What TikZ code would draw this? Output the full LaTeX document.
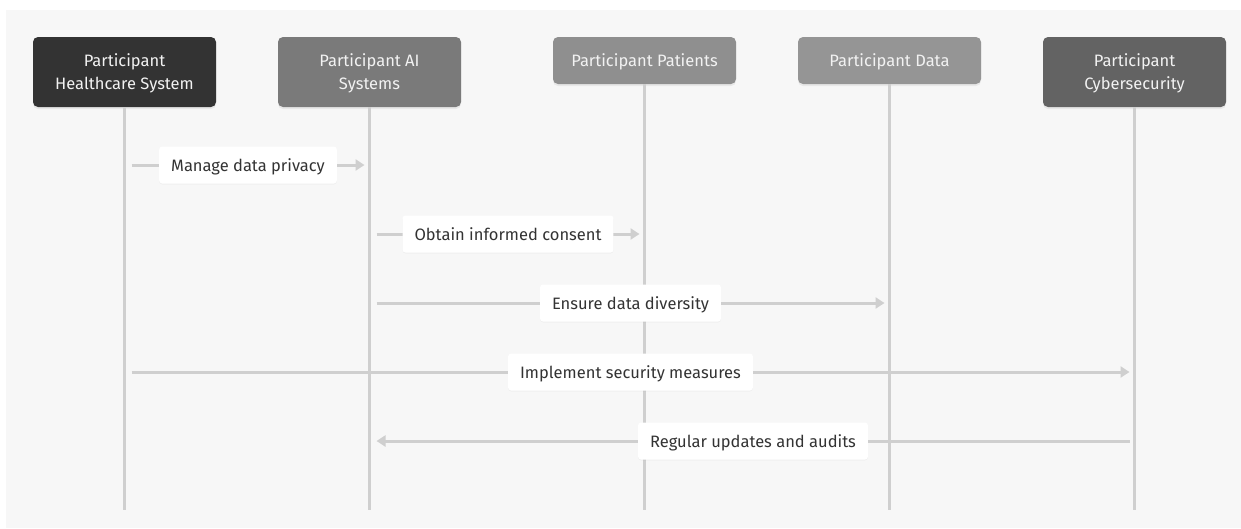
\documentclass[tikz,border=0pt]{standalone}
\usepackage{fontspec}
\setmainfont{Fira Sans}
\usetikzlibrary{shadows,arrows.meta,calc}
\definecolor{panel}{HTML}{F7F7F7}
\definecolor{rule}{HTML}{CFCFCF}
\definecolor{ink}{HTML}{333333}
\definecolor{headtext}{HTML}{F2F2F2}
\definecolor{hsfill}{HTML}{333333}
\definecolor{aifill}{HTML}{7A7A7A}
\definecolor{ptfill}{HTML}{8F8F8F}
\definecolor{dtfill}{HTML}{959595}
\definecolor{cyfill}{HTML}{636363}
\tikzset{
  actor/.style={rounded corners=5pt, minimum width=183pt, text=headtext,
    align=center, font=\fontsize{16.5}{23}\selectfont, inner sep=0pt,
    text depth=0pt,
    drop shadow={shadow xshift=0pt, shadow yshift=-2pt, opacity=0.12}},
  lifeline/.style={draw=rule, line width=3pt},
  msg/.style={draw=rule, line width=3pt, -{Triangle[length=9pt,width=11pt]}},
  msglabel/.style={fill=white, rounded corners=3pt, text=ink,
    font=\fontsize{16.5}{20}\selectfont, minimum height=37pt, inner xsep=12pt,
    text height=12pt, text depth=0pt,
    drop shadow={shadow xshift=0pt, shadow yshift=-1pt, opacity=0.06}}
}
\begin{document}
\begin{tikzpicture}[x=1pt,y=-1pt]
\useasboundingbox (0,0) rectangle (1241,528);
\fill[white] (0,0) rectangle (1241,528);
\fill[panel] (6,10) rectangle (1241,528);

% participants
\node[actor, fill=hsfill, minimum height=70pt] (hs) at (124.5,72) {Participant\\Healthcare System};
\node[actor, fill=aifill, minimum height=70pt] (ai) at (369.5,72) {Participant AI\\Systems};
\node[actor, fill=ptfill, minimum height=47pt] (pt) at (644.5,60.5) {Participant Patients};
\node[actor, fill=dtfill, minimum height=47pt] (dt) at (889.5,60.5) {Participant Data};
\node[actor, fill=cyfill, minimum height=70pt] (cy) at (1134.5,72) {Participant\\Cybersecurity};

% lifeline ends
\foreach \p in {hs,ai,pt,dt,cy}{
  \coordinate (\p-end) at (\p.south |- 0,510);
  \draw[lifeline] (\p.south) -- (\p-end);
}

% message end points
\coordinate (m1a) at ($(hs.south |- 0,165)+(7,0)$);
\coordinate (m1b) at ($(ai.south |- 0,165)+(-5,0)$);
\coordinate (m2a) at ($(ai.south |- 0,234)+(7,0)$);
\coordinate (m2b) at ($(pt.south |- 0,234)+(-5,0)$);
\coordinate (m3a) at ($(ai.south |- 0,303)+(7,0)$);
\coordinate (m3b) at ($(dt.south |- 0,303)+(-5,0)$);
\coordinate (m4a) at ($(hs.south |- 0,372)+(7,0)$);
\coordinate (m4b) at ($(cy.south |- 0,372)+(-5,0)$);
\coordinate (m5a) at ($(cy.south |- 0,441)+(-5,0)$);
\coordinate (m5b) at ($(ai.south |- 0,441)+(7,0)$);

% messages
\draw[msg] (m1a) -- node[msglabel] (l1) {Manage data privacy} (m1b);
\draw[msg] (m2a) -- node[msglabel] (l2) {Obtain informed consent} (m2b);
\draw[msg] (m3a) -- node[msglabel] (l3) {Ensure data diversity} (m3b);
\draw[msg] (m4a) -- node[msglabel] (l4) {Implement security measures} (m4b);
\draw[msg] (m5a) -- node[msglabel] (l5) {Regular updates and audits} (m5b);
\end{tikzpicture}
\end{document}
